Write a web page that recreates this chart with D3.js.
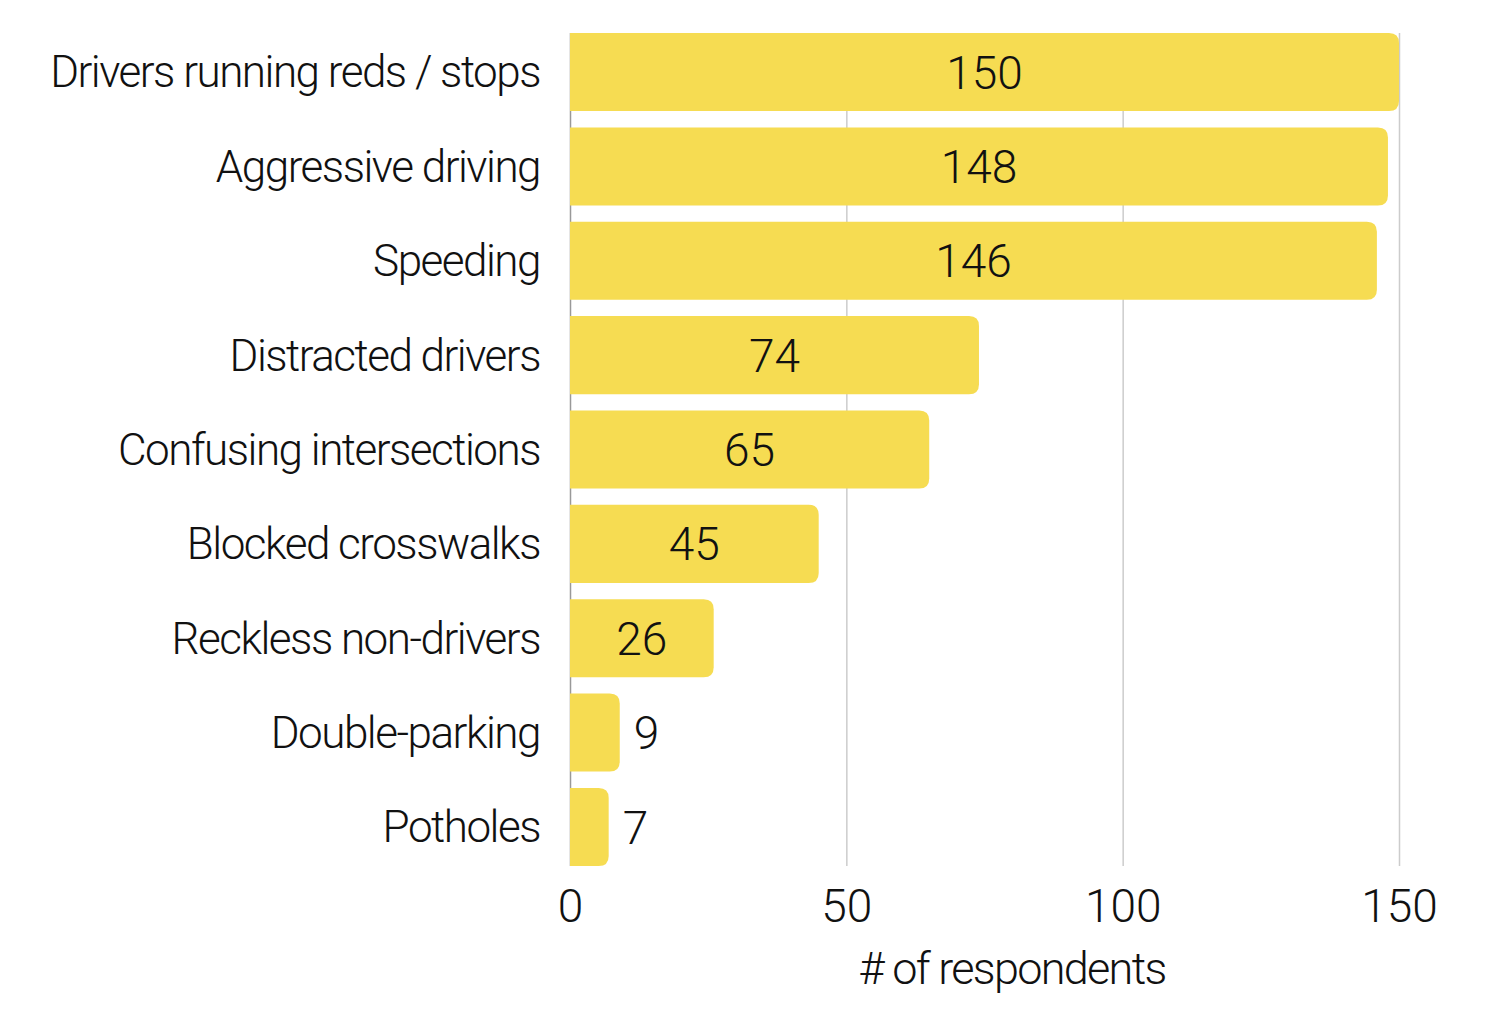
<!DOCTYPE html>
<html lang="en">
<head>
  <meta charset="UTF-8">
  <title></title>
  <style>
    body { margin: 0; background: #fff; }
  </style>
</head>
<body>
  <script src="https://d3js.org/d3.v7.min.js"></script>
  <script>
    const categories = [
      "Drivers running reds / stops",
      "Aggressive driving",
      "Speeding",
      "Distracted drivers",
      "Confusing intersections",
      "Blocked crosswalks",
      "Reckless non-drivers",
      "Double-parking",
      "Potholes"
    ];
    const counts = [150, 148, 146, 74, 65, 45, 26, 9, 7];
    const xTicks = [0, 50, 100, 150];
    const xTitle = "# of respondents";

    const [width, height] = [1510, 1011];
    const font = "Roboto";
    const barColor = "#f6dc52";

    const x = d3.scaleLinear().domain([0, 150]).range([570, 1399]);
    const y = d3.scaleBand()
      .domain(categories)
      .range([24.85, 874.15])
      .paddingInner(0.173)
      .paddingOuter(0.0865);

    const svg = d3.select(document.body)
      .append("svg")
      .attr("width", width)
      .attr("height", height)
      .attr("font-family", font)
      .attr("font-weight", 300);

    const plotTop = y(categories[0]);
    const plotBottom = y(categories[categories.length - 1]) + y.bandwidth();

    // grid lines (behind bars)
    svg.append("g")
      .selectAll("line")
      .data(xTicks)
      .join("line")
      .attr("x1", d => x(d) + 0.5)
      .attr("x2", d => x(d) + 0.5)
      .attr("y1", plotTop)
      .attr("y2", plotBottom)
      .attr("stroke", d => d === 0 ? "#999" : "#ccc")
      .attr("stroke-width", 1.5);

    // bars: square on the left, rounded on the right
    const r = 10;
    const barPath = d => {
      const x0 = x(0), x1 = x(d.v), y0 = y(d.c), h = y.bandwidth();
      const rr = Math.min(r, (x1 - x0) / 2);
      return `M${x0},${y0}H${x1 - rr}Q${x1},${y0} ${x1},${y0 + rr}` +
        `V${y0 + h - rr}Q${x1},${y0 + h} ${x1 - rr},${y0 + h}H${x0}Z`;
    };
    const data = categories.map((c, i) => ({ c, v: counts[i] }));

    svg.append("g")
      .selectAll("path")
      .data(data)
      .join("path")
      .attr("d", barPath)
      .attr("fill", barColor);

    // value labels
    svg.append("g")
      .attr("font-size", 46)
      .attr("fill", "#111")
      .selectAll("text")
      .data(data)
      .join("text")
      .attr("x", d => d.v < 20 ? x(d.v) + 14 : (x(0) + x(d.v)) / 2)
      .attr("text-anchor", d => d.v < 20 ? "start" : "middle")
      .attr("y", d => y(d.c) + y.bandwidth() / 2)
      .attr("dy", "0.36em")
      .text(d => d.v);

    // category labels
    svg.append("g")
      .attr("font-size", 44)
      .attr("fill", "#111")
      .selectAll("text")
      .data(categories)
      .join("text")
      .attr("x", 540)
      .attr("text-anchor", "end")
      .attr("y", d => y(d) + y.bandwidth() / 2)
      .attr("dy", "0.35em")
      .attr("letter-spacing", -1.5)
      .text(d => d);

    // x axis
    const xAxis = svg.append("g")
      .attr("transform", `translate(0,${plotBottom})`)
      .call(d3.axisBottom(x).tickValues(xTicks).tickSize(0).tickPadding(23))
      .call(g => g.select(".domain").remove());
    xAxis.selectAll("text")
      .attr("font-family", font)
      .attr("font-size", 46)
      .attr("fill", "#111");

    svg.append("text")
      .attr("x", 1012)
      .attr("y", 984)
      .attr("text-anchor", "middle")
      .attr("font-size", 45)
      .attr("letter-spacing", -1.7)
      .attr("fill", "#111")
      .text(xTitle);
  </script>
</body>
</html>
